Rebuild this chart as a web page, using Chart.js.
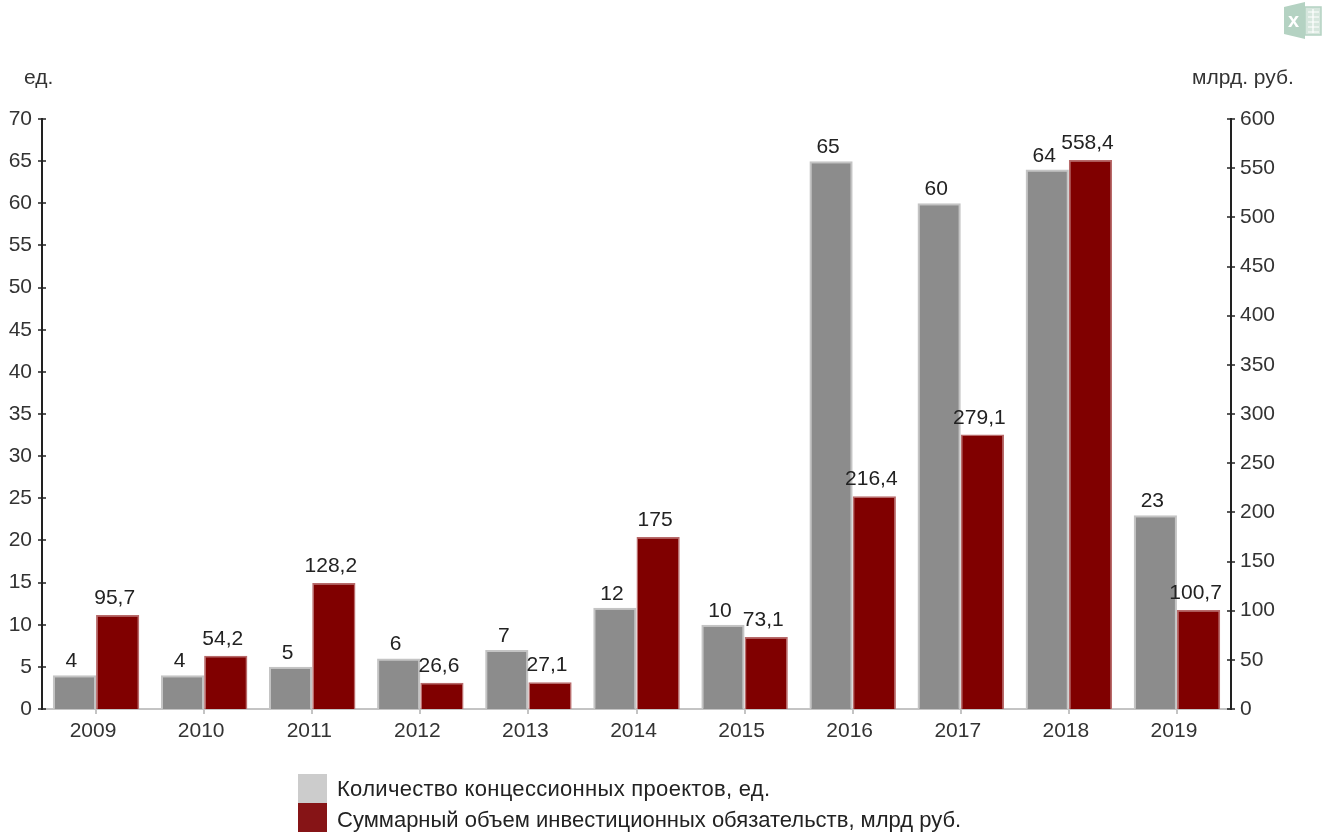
<!DOCTYPE html>
<html lang="ru">
<head>
<meta charset="utf-8">
<title>Концессионные проекты</title>
<script src="https://cdn.jsdelivr.net/npm/chart.js@4/dist/chart.umd.min.js"></script>
<style>
  body { margin: 0; background: #fff; font-family: "Liberation Sans", Arial, sans-serif; color: #222; }
  #wrap { position: relative; width: 1333px; height: 834px; overflow: hidden; }
  canvas { position: absolute; left: 0; top: 0; }
  .unit { position: absolute; top: 65px; font-size: 21px; line-height: 24px; color: #333; }
  #legend { position: absolute; left: 298px; top: 774px; font-size: 22px; color: #222; }
  #legend div { height: 29px; line-height: 29px; white-space: nowrap; }
  #legend div:first-child span { letter-spacing: 0.3px; }
  #legend div + div span { position: relative; top: 2px; }
  #legend i { display: inline-block; width: 29px; height: 29px; margin-right: 10px; vertical-align: top; }
  #xls { position: absolute; left: 1284px; top: 2px; }
</style>
</head>
<body>
<div id="wrap">
  <canvas id="chart" width="1333" height="834"></canvas>
  <span class="unit" style="left:24px">ед.</span>
  <span class="unit" style="left:1192px">млрд. руб.</span>
  <svg id="xls" width="38" height="37" viewBox="0 0 38 37">
    <path d="M0 5 L21 0 V37 L0 32 Z" fill="#b4d2c2"/>
    <path d="M21 5 H37 V33 H21 Z" fill="#d6e6dd" stroke="#b4d2c2" stroke-width="1.5"/>
    <path d="M24 10 H35 M24 15 H35 M24 20 H35 M24 25 H35 M24 30 H35 M29 7 V31" stroke="#fff" stroke-width="1.2"/>
    <text x="9.5" y="25" font-size="20" font-weight="bold" text-anchor="middle" fill="#fff" font-family="Liberation Sans">x</text>
  </svg>
  <div id="legend"></div>
</div>
<script>
const years = ["2009", "2010", "2011", "2012", "2013", "2014", "2015", "2016", "2017", "2018", "2019"];
const projects = [4, 4, 5, 6, 7, 12, 10, 65, 60, 64, 23];
const investments = [95.7, 54.2, 128.2, 26.6, 27.1, 175, 73.1, 216.4, 279.1, 558.4, 100.7];
const seriesNames = ["Количество концессионных проектов, ед.", "Суммарный объем инвестиционных обязательств, млрд руб."];
const legendColors = ["#cccccc", "#861416"];

const font = { family: "'Liberation Sans', Arial, sans-serif", size: 21 };

function fmt(v) {
  return String(v).replace(".", ",");
}

// legend is two stacked swatches with no gap, easier as html
document.getElementById("legend").innerHTML = seriesNames
  .map((n, i) => `<div><i style="background:${legendColors[i]}"></i><span>${n}</span></div>`)
  .join("");

// ticks cross the axis line on both sides, chart.js only draws them outward
const crossTicks = {
  id: "crossTicks",
  afterDatasetsDraw(chart) {
    const c = chart.ctx;
    c.save();
    c.strokeStyle = "#222";
    c.lineWidth = 1.5;
    ["y", "y2"].forEach(id => {
      const s = chart.scales[id];
      const x = id === "y" ? s.right : s.left;
      s.ticks.forEach(t => {
        const py = Math.round(s.getPixelForValue(t.value));
        c.beginPath();
        c.moveTo(x - 4, py);
        c.lineTo(x + 4, py);
        c.stroke();
      });
    });
    c.restore();
  }
};

const valueLabels = {
  id: "valueLabels",
  afterDatasetsDraw(chart) {
    const c = chart.ctx;
    c.save();
    c.font = `${font.size}px ${font.family}`;
    c.fillStyle = "#222";
    c.textAlign = "center";
    c.textBaseline = "alphabetic";
    chart.data.datasets.forEach((ds, i) => {
      const gap = i === 0 ? 8 : 11;
      chart.getDatasetMeta(i).data.forEach((bar, j) => {
        c.fillText(fmt(ds.data[j]), bar.x - 3, bar.y - gap);
      });
    });
    c.restore();
  }
};

function fixWidth(w) {
  return s => { s.width = w; s.paddingTop = 0; s.paddingBottom = 0; };
}

new Chart(document.getElementById("chart"), {
  type: "bar",
  data: {
    labels: years,
    datasets: [
      { data: projects, yAxisID: "y", backgroundColor: "#8c8c8c", borderColor: "#c4c4c4", borderWidth: 2, borderSkipped: "bottom" },
      { data: investments, yAxisID: "y2", backgroundColor: "#800000", borderColor: "#b86a6a", borderWidth: 1.5, borderSkipped: "bottom" }
    ]
  },
  options: {
    responsive: false,
    animation: false,
    categoryPercentage: 0.8,
    barPercentage: 1,
    layout: { padding: { top: 119 } },
    plugins: { legend: { display: false }, tooltip: { enabled: false } },
    scales: {
      x: {
        afterFit: s => { s.height = 125; s.paddingLeft = 0; s.paddingRight = 0; },
        grid: { offset: false, drawOnChartArea: false, color: "#c4c4c4", tickLength: 5, lineWidth: 2 },
        border: { color: "#c4c4c4", width: 2 },
        ticks: { font, color: "#333", padding: 5, labelOffset: -3, maxRotation: 0 }
      },
      y: {
        position: "left",
        min: 0,
        max: 70,
        afterFit: fixWidth(42),
        grid: { display: false },
        border: { color: "#222", width: 2 },
        ticks: { stepSize: 5, font, color: "#333", padding: 2 }
      },
      y2: {
        position: "right",
        min: 0,
        max: 600,
        afterFit: fixWidth(102),
        grid: { display: false },
        border: { color: "#222", width: 2 },
        ticks: { stepSize: 50, font, color: "#333", padding: 1 }
      }
    }
  },
  plugins: [crossTicks, valueLabels]
});
</script>
</body>
</html>
